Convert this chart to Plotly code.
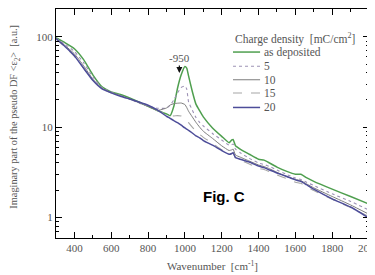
import plotly.graph_objects as go

wavenumber = [300, 350, 400, 450, 500, 550, 600, 650, 700, 750, 800, 850, 900, 920, 940, 960, 980,
              1000, 1010, 1020, 1040, 1060, 1080, 1100, 1150, 1200, 1240, 1255, 1262, 1275, 1300,
              1350, 1400, 1430, 1460, 1500, 1550, 1600, 1630, 1660, 1700, 1800, 1900, 2000]

as_deposited = [98, 86, 74, 56, 38, 28, 24.5, 23, 21, 19, 17, 15.3, 14, 13.4, 17, 27, 38,
                47, 45, 37, 25, 18, 15.2, 13, 9.8, 7.9, 6.7, 7.2, 7.3, 6.2, 5.7,
                5.0, 4.4, 4.3, 4.0, 3.6, 3.25, 3.0, 3.0, 2.75, 2.5, 2.05, 1.7, 1.4]

cd_5 = [97, 83, 69, 52, 36, 27.5, 24.5, 22.5, 20.5, 18.5, 17, 16.2, 16.2, 17.5, 20, 24, 27.5,
        28.5, 26.5, 19, 15.5, 12.8, 11.3, 10.3, 8.5, 7.2, 6.3, 6.4, 6.5, 5.7, 5.2,
        4.5, 4.0, 3.85, 3.65, 3.35, 3.0, 2.72, 2.63, 2.45, 2.25, 1.82, 1.5, 1.2]

cd_10 = [96, 80, 65, 48, 34, 27, 24.2, 22.3, 20.5, 18.7, 17, 15.3, 16.3, 17.6, 18.2, 18.4, 18.5,
         17.8, 16.5, 15.0, 13.0, 11.3, 10.0, 9.0, 7.5, 6.2, 5.5, 5.6, 5.7, 4.9, 4.65,
         4.2, 3.8, 3.65, 3.45, 3.15, 2.85, 2.62, 2.55, 2.35, 2.12, 1.7, 1.37, 1.08]

cd_15 = [95, 77, 61, 45, 33, 26.5, 24, 22, 20.5, 18.8, 17.2, 15.3, 13.8, 13.4, 13.3, 13.4, 13.3,
         12.6, 12.0, 11.2, 10.0, 9.0, 8.3, 7.7, 6.6, 5.6, 5.0, 5.1, 5.2, 4.5, 4.3,
         3.9, 3.5, 3.38, 3.2, 2.95, 2.7, 2.45, 2.38, 2.2, 1.98, 1.58, 1.28, 1.02]

cd_20 = [96, 78, 62, 45, 33, 26.5, 24, 22, 20.5, 19, 17.5, 15.5, 13.2, 12.5, 11.8, 11.2, 10.5,
         9.8, 9.5, 9.2, 8.6, 8.0, 7.6, 7.1, 6.3, 5.5, 5.0, 5.1, 5.2, 4.6, 4.4,
         4.1, 3.7, 3.55, 3.35, 3.1, 2.85, 2.6, 2.5, 2.3, 2.05, 1.6, 1.3, 0.98]

series_names = ["as deposited", "5", "10", "15", "20"]
series_values = [as_deposited, cd_5, cd_10, cd_15, cd_20]
series_colors = ["#4f9f4f", "#9d92b5", "#7d7d7d", "#a6a6a6", "#4d4d99"]
series_dash = ["solid", "dot", "solid", "dash", "solid"]
series_width = [1.5, 1.1, 1.0, 1.1, 1.5]

x_tick_vals = [400, 600, 800, 1000, 1200, 1400, 1600, 1800, 2000]
x_tick_text = ["400", "600", "800", "1000", "1200", "1400", "1600", "1800", "2000"]
y_tick_vals = [1, 10, 100]
y_tick_text = ["1", "10", "100"]

SERIF = "Liberation Serif"
TXT = "#555555"

fig = go.Figure()
for name, vals, col, dash, w in zip(series_names, series_values, series_colors, series_dash, series_width):
    fig.add_trace(go.Scatter(x=wavenumber, y=vals, mode="lines", name=name,
                             line=dict(color=col, dash=dash, width=w, shape="spline", smoothing=0.4),
                             showlegend=False))

# manual legend
leg_x0, leg_x1, leg_tx = 0.5655, 0.652, 0.658
leg_rows = [0.812, 0.750, 0.691, 0.633, 0.570]
shapes = []
annotations = [dict(x=leg_x0, y=0.870, xref="paper", yref="paper", xanchor="left", yanchor="middle",
                    text="Charge density  [mC/cm<sup>2</sup>]", showarrow=False,
                    font=dict(family=SERIF, size=11.5, color=TXT))]
for name, col, dash, w, ry in zip(series_names, series_colors, series_dash, series_width, leg_rows):
    shapes.append(dict(type="line", xref="paper", yref="paper", x0=leg_x0, x1=leg_x1, y0=ry, y1=ry,
                       line=dict(color=col, dash=dash, width=w)))
    annotations.append(dict(x=leg_tx, y=ry, xref="paper", yref="paper", xanchor="left", yanchor="middle",
                            text=name, showarrow=False, font=dict(family=SERIF, size=11.5, color=TXT)))

annotations.append(dict(x=970, y=1.6, xref="x", yref="y", text="-950", showarrow=True,
                        arrowhead=2, arrowsize=1, arrowwidth=1.2, arrowcolor="#111",
                        ax=0, ay=-15, standoff=0, font=dict(family=SERIF, size=11, color=TXT)))
annotations.append(dict(x=0.537, y=0.135, xref="paper", yref="paper", text="<b>Fig. C</b>",
                        showarrow=False, font=dict(family="Liberation Sans", size=15, color="#000")))
# y-axis title (placed as a rotated annotation to match the reference position)
annotations.append(dict(x=-0.131, y=0.53, xref="paper", yref="paper", textangle=-90,
                        xanchor="center", yanchor="middle", showarrow=False,
                        text="Imaginary part of the pseudo DF &lt;ε<sub>2</sub>&gt;  [a.u.]",
                        font=dict(family=SERIF, size=10.3, color=TXT)))

# the page body adds an 8px offset, so the figure is sized to fit the window
fig.update_layout(
    width=367, height=267, autosize=False,
    margin=dict(l=48, r=6, t=1, b=37),
    paper_bgcolor="white", plot_bgcolor="white",
    shapes=shapes, annotations=annotations,
    font=dict(family=SERIF, size=11, color=TXT),
)
fig.update_xaxes(range=[300, 2000], tickvals=x_tick_vals, ticktext=x_tick_text,
                 ticks="inside", ticklen=5.5, tickcolor="#000", showline=True, linecolor="#000",
                 linewidth=1.2, mirror="ticks", showgrid=False, zeroline=False,
                 ticklabeloverflow="allow",
                 minor=dict(ticks="inside", ticklen=3, dtick=100, tick0=300, tickcolor="#000"),
                 title=dict(text="Wavenumber  [cm<sup>-1</sup>]", font=dict(size=11, color=TXT), standoff=9),
                 tickfont=dict(size=11, color=TXT), automargin=False)
fig.update_yaxes(type="log", range=[-0.23, 2.31], tickvals=y_tick_vals, ticktext=y_tick_text,
                 ticks="inside", ticklen=5.5, tickcolor="#000", showline=True, linecolor="#000",
                 linewidth=1.2, mirror="ticks", showgrid=False, zeroline=False,
                 minor=dict(ticks="inside", ticklen=3, dtick="D1", tickcolor="#000"),
                 tickfont=dict(size=11, color=TXT), automargin=False)

fig.write_html("out.html")
